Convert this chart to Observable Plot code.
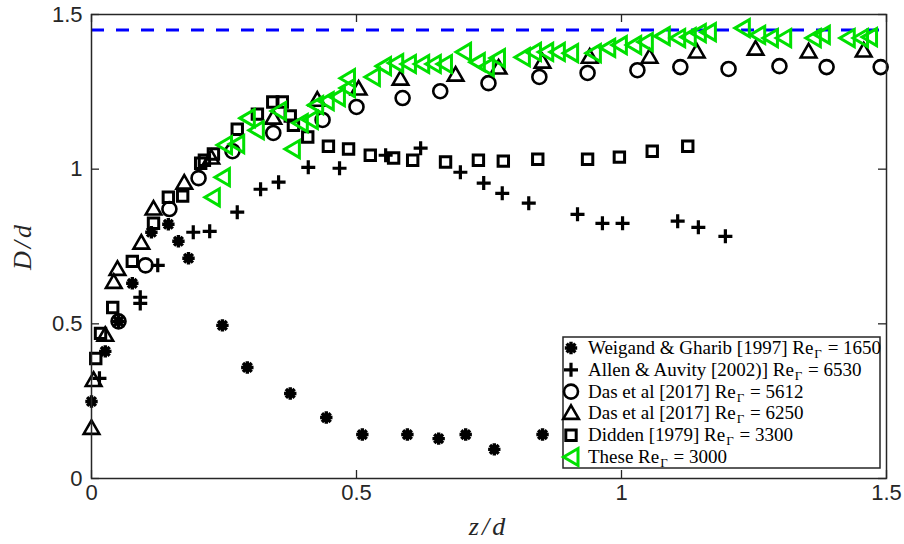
<!DOCTYPE html>
<html>
<head>
<meta charset="utf-8">
<script src="https://cdn.jsdelivr.net/npm/d3@7"></script>
<script src="https://cdn.jsdelivr.net/npm/@observablehq/plot@0.6"></script>
<style>
  body { margin: 0; background: #fff; }
  #chart svg { display: block; }
</style>
</head>
<body>
<div id="chart"></div>
<script>
// ---------- data (z/d, D/d) ----------
const weigandZ = [0.000, 0.026, 0.051, 0.077, 0.113, 0.145, 0.164, 0.183, 0.247, 0.294, 0.375, 0.443, 0.511, 0.596, 0.655, 0.706, 0.760, 0.851];
const weigandD = [0.249, 0.411, 0.508, 0.631, 0.796, 0.822, 0.767, 0.712, 0.495, 0.359, 0.275, 0.197, 0.142, 0.142, 0.129, 0.142, 0.094, 0.142];

const allenZ = [0.015, 0.092, 0.092, 0.125, 0.192, 0.223, 0.275, 0.319, 0.353, 0.409, 0.468, 0.555, 0.621, 0.696, 0.740, 0.775, 0.825, 0.917, 0.964, 1.002, 1.106, 1.145, 1.196];
const allenD = [0.324, 0.586, 0.566, 0.689, 0.796, 0.799, 0.861, 0.935, 0.958, 1.006, 1.003, 1.045, 1.068, 0.990, 0.955, 0.922, 0.890, 0.854, 0.825, 0.825, 0.832, 0.812, 0.783];

const das5612Z = [0.051, 0.102, 0.147, 0.202, 0.266, 0.343, 0.436, 0.500, 0.587, 0.658, 0.749, 0.845, 0.936, 1.030, 1.111, 1.202, 1.298, 1.387, 1.489];
const das5612D = [0.508, 0.689, 0.871, 0.971, 1.058, 1.117, 1.159, 1.201, 1.230, 1.252, 1.278, 1.298, 1.311, 1.320, 1.330, 1.324, 1.333, 1.330, 1.330];

const das6250Z = [0.000, 0.004, 0.026, 0.042, 0.049, 0.094, 0.117, 0.175, 0.226, 0.343, 0.426, 0.504, 0.583, 0.687, 0.768, 0.851, 0.940, 1.053, 1.142, 1.253, 1.353, 1.457];
const das6250D = [0.162, 0.317, 0.463, 0.634, 0.676, 0.761, 0.871, 0.955, 1.036, 1.165, 1.223, 1.259, 1.291, 1.304, 1.327, 1.346, 1.362, 1.362, 1.379, 1.388, 1.379, 1.382];

const diddenZ = [0.008, 0.017, 0.040, 0.077, 0.117, 0.145, 0.172, 0.206, 0.213, 0.230, 0.275, 0.313, 0.342, 0.360, 0.375, 0.381, 0.408, 0.447, 0.485, 0.526, 0.570, 0.606, 0.668, 0.730, 0.777, 0.842, 0.936, 0.996, 1.058, 1.125];
const diddenD = [0.388, 0.469, 0.553, 0.702, 0.825, 0.909, 0.913, 1.019, 1.029, 1.049, 1.129, 1.178, 1.217, 1.217, 1.172, 1.142, 1.104, 1.074, 1.065, 1.045, 1.036, 1.029, 1.023, 1.029, 1.026, 1.032, 1.032, 1.039, 1.058, 1.074];

const theseZ = [0.228, 0.247, 0.251, 0.274, 0.294, 0.311, 0.353, 0.379, 0.394, 0.413, 0.423, 0.443, 0.464, 0.483, 0.483, 0.530, 0.551, 0.574, 0.598, 0.623, 0.645, 0.666, 0.702, 0.728, 0.745, 0.766, 0.813, 0.834, 0.857, 0.879, 0.904, 0.947, 0.974, 0.996, 1.023, 1.045, 1.077, 1.106, 1.126, 1.145, 1.164, 1.228, 1.257, 1.281, 1.306, 1.362, 1.379, 1.426, 1.451, 1.468];
const theseD = [0.909, 0.974, 1.078, 1.081, 1.165, 1.126, 1.188, 1.065, 1.149, 1.159, 1.207, 1.220, 1.233, 1.294, 1.262, 1.298, 1.333, 1.343, 1.340, 1.340, 1.340, 1.340, 1.379, 1.346, 1.330, 1.359, 1.362, 1.379, 1.379, 1.379, 1.375, 1.375, 1.392, 1.401, 1.401, 1.411, 1.430, 1.424, 1.427, 1.440, 1.443, 1.456, 1.434, 1.424, 1.424, 1.424, 1.434, 1.424, 1.424, 1.427];

const limitD = [1.45];

const xTicks = [0, 0.5, 1, 1.5];
const yTicks = [0, 0.5, 1, 1.5];

const legendLabels = [
  ["Weigand & Gharib [1997] Re", "Γ", " = 1650"],
  ["Allen & Auvity [2002)] Re", "Γ", " = 6530"],
  ["Das et al [2017] Re", "Γ", " = 5612"],
  ["Das et al [2017] Re", "Γ", " = 6250"],
  ["Didden [1979] Re", "Γ", " = 3300"],
  ["These Re", "Γ", " = 3000"]
];

// ---------- marker symbols (fixed pixel geometry) ----------
const symAsterisk = { draw(c) { const r = 6.2; for (let k = 0; k < 4; k++) { const a = k * Math.PI / 4; c.moveTo(r * Math.cos(a), r * Math.sin(a)); c.lineTo(-r * Math.cos(a), -r * Math.sin(a)); } } };
const symPlus = { draw(c) { const r = 7; c.moveTo(-r, 0); c.lineTo(r, 0); c.moveTo(0, -r); c.lineTo(0, r); } };
const symCircle = { draw(c) { const r = 7; c.moveTo(r, 0); c.arc(0, 0, r, 0, 2 * Math.PI); c.closePath(); } };
const symTriUp = { draw(c) { c.moveTo(0, -8); c.lineTo(7.8, 5.5); c.lineTo(-7.8, 5.5); c.closePath(); } };
const symSquare = { draw(c) { c.moveTo(-5.2, -5.2); c.lineTo(5.2, -5.2); c.lineTo(5.2, 5.2); c.lineTo(-5.2, 5.2); c.closePath(); } };
const symTriLeft = { draw(c) { c.moveTo(-7.5, 0); c.lineTo(7, -8.5); c.lineTo(7, 8.5); c.closePath(); } };

const green = "#00e000";
const axisColor = "#262626";

const series = [
  { z: weigandZ, d: weigandD, symbol: symAsterisk, stroke: "black", sw: 3.4 },
  { z: allenZ, d: allenD, symbol: symPlus, stroke: "black", sw: 3.2 },
  { z: das5612Z, d: das5612D, symbol: symCircle, stroke: "black", sw: 2.6 },
  { z: das6250Z, d: das6250D, symbol: symTriUp, stroke: "black", sw: 2.6 },
  { z: diddenZ, d: diddenD, symbol: symSquare, stroke: "black", sw: 3 },
  { z: theseZ, d: theseD, symbol: symTriLeft, stroke: green, sw: 3 }
];

const width = 904, height = 544;
const mL = 91, mR = 18, mT = 14, mB = 66;
const innerW = width - mL - mR, innerH = height - mT - mB;

const dotMarks = series.map(s =>
  Plot.dot(d3.zip(s.z, s.d), {
    x: p => p[0], y: p => p[1],
    symbol: s.symbol, fill: "none", stroke: s.stroke, strokeWidth: s.sw
  })
);

const plot = Plot.plot({
  width, height,
  marginLeft: mL, marginRight: mR, marginTop: mT, marginBottom: mB,
  x: { domain: [0, 1.5], label: null },
  y: { domain: [0, 1.5], label: null },
  style: { fontFamily: "'Liberation Sans', Arial, sans-serif", fontSize: "22px", color: axisColor, background: "white", overflow: "visible" },
  marks: [
    Plot.ruleY(limitD, { stroke: "#0000ff", strokeWidth: 3, strokeDasharray: "13,12" }),
    ...dotMarks,
    Plot.frame({ stroke: axisColor, strokeWidth: 1.5 }),
    Plot.tickX(xTicks, { x: d => d, insetTop: innerH - 8, stroke: axisColor, strokeWidth: 1.3 }),
    Plot.tickX(xTicks, { x: d => d, insetBottom: innerH - 8, stroke: axisColor, strokeWidth: 1.3 }),
    Plot.tickY(yTicks, { y: d => d, insetRight: innerW - 8, stroke: axisColor, strokeWidth: 1.3 }),
    Plot.tickY(yTicks, { y: d => d, insetLeft: innerW - 8, stroke: axisColor, strokeWidth: 1.3 }),
    Plot.axisX({ ticks: xTicks, tickSize: 0, tickPadding: 6, tickFormat: d => String(d), fontSize: 22, fill: axisColor }),
    Plot.axisY({ ticks: yTicks, tickSize: 0, tickPadding: 9, tickFormat: d => String(d), fontSize: 22, fill: axisColor })
  ]
});

document.getElementById("chart").appendChild(plot);

// ---------- axis labels & legend ----------
const svg = d3.select(plot);
const frameR = width - mR, frameB = height - mB;
const serif = "'Liberation Serif', 'Times New Roman', serif";

svg.append("text")
  .attr("x", mL + innerW / 2).attr("y", 535)
  .attr("text-anchor", "middle")
  .attr("font-family", serif).attr("font-style", "italic").attr("font-size", 26)
  .attr("letter-spacing", 3)
  .attr("fill", axisColor)
  .text("z/d");

svg.append("text")
  .attr("transform", `translate(31,${mT + innerH / 2}) rotate(-90)`)
  .attr("text-anchor", "middle")
  .attr("font-family", serif).attr("font-style", "italic").attr("font-size", 26)
  .attr("letter-spacing", 3)
  .attr("fill", axisColor)
  .text("D/d");

const boxW = 317, boxH = 131;
const boxX = frameR - 6 - boxW, boxY = frameB - 10 - boxH;
const lg = svg.append("g").attr("text-anchor", "start");
lg.append("rect")
  .attr("x", boxX).attr("y", boxY).attr("width", boxW).attr("height", boxH)
  .attr("fill", "white").attr("stroke", axisColor).attr("stroke-width", 1.5);

series.forEach((s, i) => {
  const cy = boxY + 11 + i * 21.8;
  const p = d3.path();
  s.symbol.draw(p, 0);
  lg.append("path")
    .attr("transform", `translate(${boxX + 8},${cy})`)
    .attr("d", p.toString())
    .attr("fill", "none").attr("stroke", s.stroke).attr("stroke-width", s.sw);
  const t = lg.append("text")
    .attr("x", boxX + 25).attr("y", cy + 6)
    .attr("text-anchor", "start")
    .attr("font-family", serif).attr("font-size", 19).attr("fill", "black");
  const [a, sub, b] = legendLabels[i];
  t.append("tspan").text(a);
  t.append("tspan").attr("font-size", 13).attr("dx", 1).attr("dy", 4).text(sub);
  t.append("tspan").attr("dx", 1).attr("dy", -4).text(b);
});
</script>
</body>
</html>
